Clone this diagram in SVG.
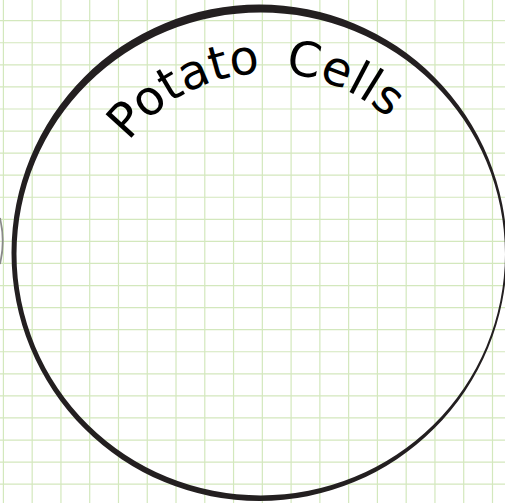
<svg xmlns="http://www.w3.org/2000/svg" width="505" height="503" viewBox="0 0 505 503">
  <style>
    .grid { stroke: #d3e8bd; stroke-width: 1.2; fill: none; }
    .ring { fill: #231f20; fill-rule: evenodd; }
    .label { font-family: "DejaVu Sans", "Liberation Sans", sans-serif; font-size: 48px; word-spacing: 9px; fill: #000; }
  </style>
  <defs>
    <path id="labelArc" d="M128.7,141.4 A178,178 0 0 1 423.2,162"/>
  </defs>
  <rect x="0" y="0" width="505" height="503" fill="#ffffff"/>
  <g id="grid">
    <path class="grid" d="M3.4,0V503 M32.17,0V503 M60.94,0V503 M89.71,0V503 M118.48,0V503 M147.25,0V503 M176.02,0V503 M204.79,0V503 M233.56,0V503 M262.33,0V503 M291.1,0V503 M319.87,0V503 M348.64,0V503 M377.41,0V503 M406.18,0V503 M434.95,0V503 M463.72,0V503 M492.49,0V503"/>
    <path class="grid" d="M0,20.7H505 M0,42.77H505 M0,64.84H505 M0,86.91H505 M0,108.98H505 M0,131.05H505 M0,153.12H505 M0,175.19H505 M0,197.26H505 M0,219.33H505 M0,241.4H505 M0,263.47H505 M0,285.54H505 M0,307.61H505 M0,329.68H505 M0,351.75H505 M0,373.82H505 M0,395.89H505 M0,417.96H505 M0,440.03H505 M0,462.1H505 M0,484.17H505"/>
  </g>
  <g id="edge-sliver">
    <path d="M0,218 Q5.5,241 0,264" fill="none" stroke="#8a8a8a" stroke-width="1.8"/>
  </g>
  <g id="potato-cell">
    <path class="ring" d="M11.5,252.75 A247.75,248.25 0 1 1 507,252.75 A247.75,248.25 0 1 1 11.5,252.75 Z M16.5,254 A244.25,241.5 0 1 0 505,254 A244.25,241.5 0 1 0 16.5,254 Z"/>
    <text class="label"><textPath href="#labelArc">Potato Cells</textPath></text>
  </g>
</svg>
